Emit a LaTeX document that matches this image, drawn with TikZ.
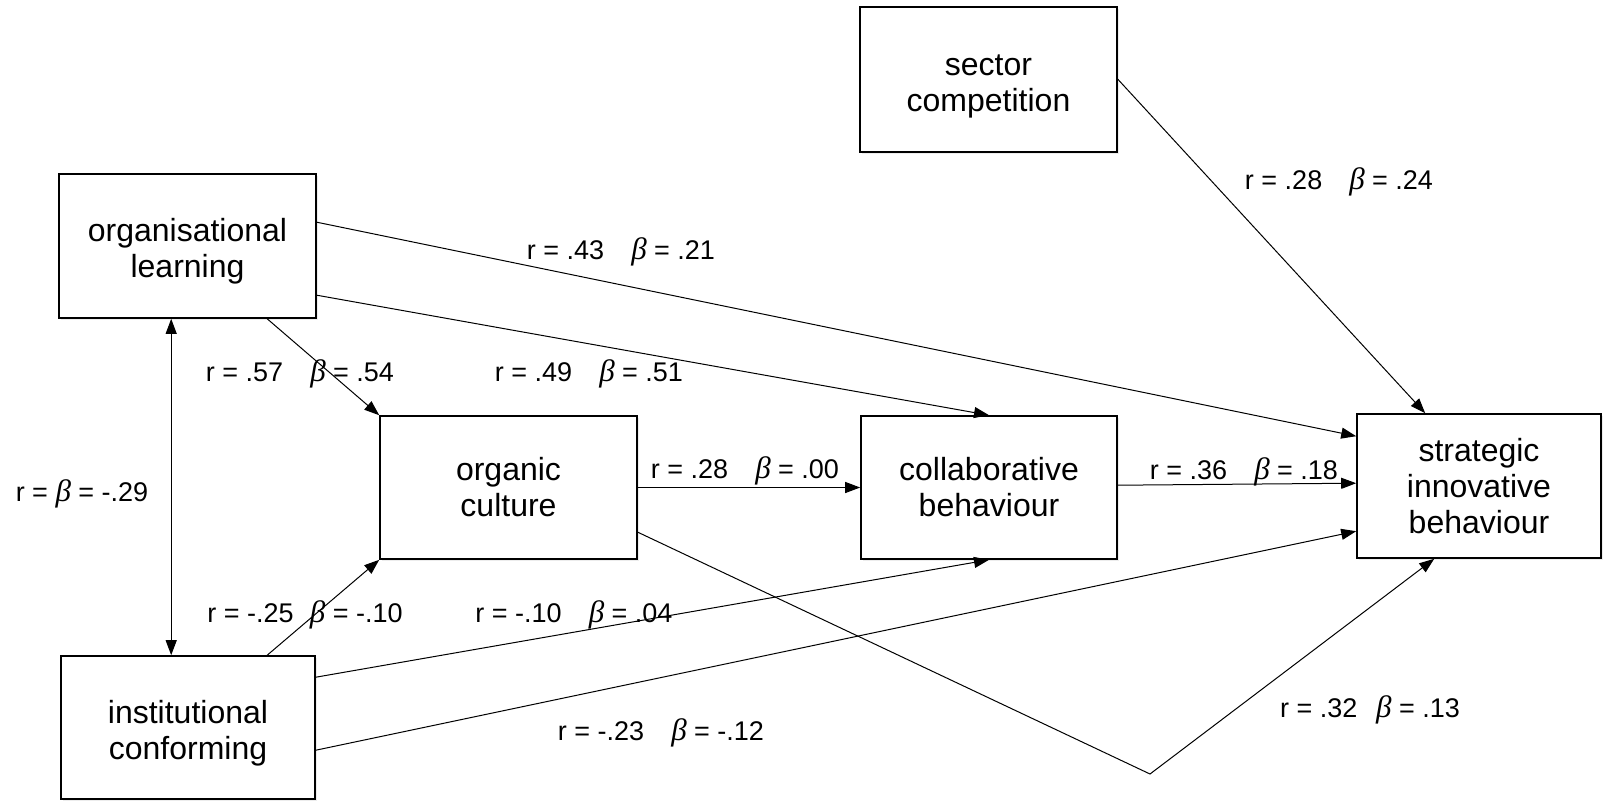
\documentclass[tikz,border=0pt]{standalone}
\usepackage{fontspec}
\setmainfont{Liberation Sans}
\newfontfamily\grkfont{Liberation Serif}
\newcommand\betasym{{\grkfont\itshape\fontsize{15.5}{15}\selectfont β}}
% extra room above the first line of a box text, to lower it a little
\newcommand\topgap{\rule{0pt}{17pt}}
\usetikzlibrary{arrows.meta,calc,shadows}

\begin{document}
\begin{tikzpicture}[x=0.5pt,y=-0.5pt,
  box/.style={draw, line width=0.8pt, fill=white, align=center, inner sep=0pt,
    font=\fontsize{16}{18}\selectfont,
    drop shadow={shadow xshift=1.2pt, shadow yshift=-1.2pt, opacity=0.15}},
  arr/.style={-{Triangle[length=7.5pt,width=5.5pt]}, line width=0.5pt},
  dblarr/.style={{Triangle[length=7.5pt,width=5.5pt]}-{Triangle[length=7.5pt,width=5.5pt]}, line width=0.5pt},
  lab/.style={font=\fontsize{13.5}{15}\selectfont, inner sep=1pt}]

\useasboundingbox (0,0) rectangle (1603,800);

% boxes
\node[box, minimum width=128.5pt, minimum height=72pt]   (orglearn)  at (187.5,246)  {\topgap organisational\\learning};
\node[box, minimum width=127pt,   minimum height=71.5pt] (instconf)  at (188,727.5)  {\topgap institutional\\conforming};
\node[box, minimum width=128.5pt, minimum height=72.5pt] (sector)    at (988.5,79.5) {\topgap sector\\competition};
\node[box, minimum width=128.5pt, minimum height=71.5pt] (organic)   at (508.5,487.5) {organic\\culture};
\node[box, minimum width=128pt,   minimum height=71.5pt] (collab)    at (989,487.5)  {collaborative\\behaviour};
\node[box, minimum width=122pt,   minimum height=72pt]   (strategic) at (1479,486)   {strategic\\innovative\\behaviour};

\coordinate (bend) at (1150,774);

% paths
\draw[arr] ($(orglearn.north east)+(0,49)$) -- ($(strategic.north west)+(0,23)$);
\draw[arr] ($(orglearn.north east)+(0,122)$) -- (collab.north);
\draw[arr] ($(orglearn.south west)+(209,0)$) -- (organic.north west);
\draw[arr] ($(instconf.north west)+(207,0)$) -- (organic.south west);
\draw[arr] ($(instconf.north east)+(0,22)$) -- (collab.south);
\draw[arr] ($(instconf.north east)+(0,95)$) -- ($(strategic.north west)+(0,118)$);
\draw[arr] (organic.east) -- (collab.west);
\draw[arr] ($(collab.north east)+(0,70)$) -- ($(strategic.north west)+(0,70)$);
\draw[arr] ($(sector.north east)+(0,73)$) -- ($(strategic.north west)+(69,0)$);
\draw[arr] ($(organic.north east)+(0,117)$) -- (bend) -- ($(strategic.south west)+(78,0)$);
\draw[dblarr] ($(orglearn.south west)+(113,0)$) -- ($(instconf.north west)+(111,0)$);

% coefficients
\node[lab] (l1)  at (1339,182) {r = .28\quad\betasym{} = .24};
\node[lab] (l2)  at (621,252)  {r = .43\quad\betasym{} = .21};
\node[lab] (l3)  at (300,374)  {r = .57\quad\betasym{} = .54};
\node[lab] (l4)  at (589,374)  {r = .49\quad\betasym{} = .51};
\node[lab] (l5)  at (82,494)   {r = \betasym{} = -.29};
\node[lab] (l6)  at (745,471)  {r = .28\quad\betasym{} = .00};
\node[lab] (l7)  at (1244,472) {r = .36\quad\betasym{} = .18};
\node[lab] (l8)  at (305,615)  {r = -.25\hspace{0.6em}\betasym{} = -.10};
\node[lab] (l9)  at (574,615)  {r = -.10\quad\betasym{} = .04};
\node[lab] (l10) at (661,733)  {r = -.23\quad\betasym{} = -.12};
\node[lab] (l11) at (1370,710) {r = .32\hspace{0.7em}\betasym{} = .13};
\end{tikzpicture}
\end{document}
